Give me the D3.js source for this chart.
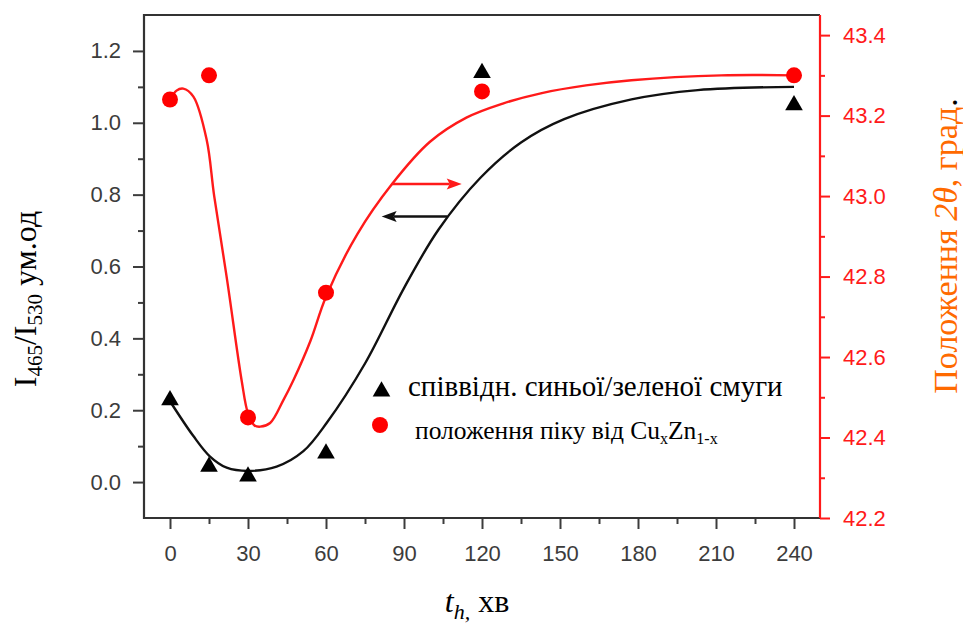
<!DOCTYPE html>
<html>
<head>
<meta charset="utf-8">
<script src="https://cdn.jsdelivr.net/npm/d3@7"></script>
<style>
  body { margin: 0; background: #fff; }
  svg { display: block; }
</style>
</head>
<body>
<svg id="chart" width="963" height="624"></svg>
<script>
// Tick values for the three axes
const timeTicks = [0, 30, 60, 90, 120, 150, 180, 210, 240];
const timeMinorTicks = [15, 45, 75, 105, 135, 165, 195, 225];
const ratioTicks = [0.0, 0.2, 0.4, 0.6, 0.8, 1.0, 1.2];
const ratioMinorTicks = [0.1, 0.3, 0.5, 0.7, 0.9, 1.1];
const peakTicks = [42.2, 42.4, 42.6, 42.8, 43.0, 43.2, 43.4];
const peakMinorTicks = [42.3, 42.5, 42.7, 42.9, 43.1, 43.3];

// Measured points: annealing time (min), blue/green band ratio, CuxZn1-x peak position (2θ)
const sampleTimes = [0, 15, 30, 60, 120, 240];
const ratioValues = [0.228, 0.043, 0.016, 0.080, 1.139, 1.049];
const peakValues = [43.24, 43.30, 42.45, 42.76, 43.26, 43.30];

// Fitted guide curves
const ratioFitTimes = [0, 9, 15.4, 21.8, 30, 41, 51.3, 60.3, 75, 90, 103.3, 119.4, 135, 151.6, 177.5, 203, 240];
const ratioFitValues = [0.225, 0.128, 0.071, 0.040, 0.031, 0.043, 0.086, 0.165, 0.33, 0.54, 0.703, 0.847, 0.945, 1.01, 1.065, 1.091, 1.10];
const peakFitTimes = [0, 2.5, 5.1, 9, 14.1, 17, 22, 27.6, 30, 32.5, 34.7, 38.5, 43.6, 47.5, 54, 60, 72, 85.4, 100, 114, 128, 143, 160, 177.5, 212, 240];
const peakFitValues = [43.239, 43.262, 43.267, 43.247, 43.14, 43.0, 42.79, 42.54, 42.46, 42.43, 42.427, 42.436, 42.493, 42.543, 42.64, 42.75, 42.905, 43.03, 43.135, 43.195, 43.23, 43.256, 43.275, 43.288, 43.30, 43.30];

// Arrows pointing each curve to its axis: [fromTime, toTime, level]
const ratioArrow = [106.7, 81.4, 0.739];
const peakArrow = [85.3, 112.2, 43.03];

const BLACK = "#111";
const RED = "#ff1a1a";
const FRAME = "#333";

const svg = d3.select("#chart");
const plotLeft = 144, plotRight = 820, plotTop = 15, plotBottom = 518;

const x = d3.scaleLinear().domain([-10, 250]).range([plotLeft, plotRight]);
const yL = d3.scaleLinear().domain([-0.1, 1.3]).range([plotBottom, plotTop]);
const yR = d3.scaleLinear().domain([42.2, 43.45]).range([plotBottom, plotTop]);

function styleAxis(g, color, fontSize) {
  g.select(".domain").remove();
  g.selectAll(".tick line").attr("stroke", color).attr("stroke-width", 2);
  g.selectAll(".tick text")
    .attr("fill", color)
    .style("font-family", "'Liberation Sans', Arial, sans-serif")
    .style("font-size", fontSize + "px");
}

// Bottom axis
svg.append("g").attr("transform", `translate(0,${plotBottom})`)
  .call(d3.axisBottom(x).tickValues(timeTicks).tickSize(11).tickPadding(16).tickFormat(d3.format("d")))
  .call(g => styleAxis(g, "#3c3c3c", 22));
svg.append("g").attr("transform", `translate(0,${plotBottom})`)
  .call(d3.axisBottom(x).tickValues(timeMinorTicks).tickSize(6).tickFormat(""))
  .call(g => styleAxis(g, "#3c3c3c", 22));

// Left axis
svg.append("g").attr("transform", `translate(${plotLeft},0)`)
  .call(d3.axisLeft(yL).tickValues(ratioTicks).tickSize(11).tickPadding(12).tickFormat(d3.format(".1f")))
  .call(g => styleAxis(g, "#3c3c3c", 22));
svg.append("g").attr("transform", `translate(${plotLeft},0)`)
  .call(d3.axisLeft(yL).tickValues(ratioMinorTicks).tickSize(6).tickFormat(""))
  .call(g => styleAxis(g, "#3c3c3c", 22));

// Right axis
svg.append("g").attr("transform", `translate(${plotRight},0)`)
  .call(d3.axisRight(yR).tickValues(peakTicks).tickSize(10).tickPadding(13).tickFormat(d3.format(".1f")))
  .call(g => styleAxis(g, RED, 22));
svg.append("g").attr("transform", `translate(${plotRight},0)`)
  .call(d3.axisRight(yR).tickValues(peakMinorTicks).tickSize(5).tickFormat(""))
  .call(g => styleAxis(g, RED, 22));

// Frame
svg.append("path")
  .attr("d", `M${plotRight},${plotTop}H${plotLeft}V${plotBottom}H${plotRight}`)
  .attr("fill", "none").attr("stroke", FRAME).attr("stroke-width", 2.2);
svg.append("line")
  .attr("x1", plotRight).attr("x2", plotRight).attr("y1", plotTop).attr("y2", plotBottom)
  .attr("stroke", RED).attr("stroke-width", 2.2);

// Fitted curves
const ratioLine = d3.line().x(d => x(d[0])).y(d => yL(d[1])).curve(d3.curveCatmullRom.alpha(0.5));
const peakLine = d3.line().x(d => x(d[0])).y(d => yR(d[1])).curve(d3.curveCatmullRom.alpha(0.5));

svg.append("path")
  .datum(d3.zip(ratioFitTimes, ratioFitValues))
  .attr("d", ratioLine)
  .attr("fill", "none").attr("stroke", BLACK).attr("stroke-width", 2.4);
svg.append("path")
  .datum(d3.zip(peakFitTimes, peakFitValues))
  .attr("d", peakLine)
  .attr("fill", "none").attr("stroke", RED).attr("stroke-width", 2.4);

// Arrows
function arrow(x1, x2, y, color) {
  const dir = Math.sign(x2 - x1);
  const headLen = 15, headHalf = 5.5;
  svg.append("line")
    .attr("x1", x1).attr("x2", x2 - dir * headLen * 0.8)
    .attr("y1", y).attr("y2", y)
    .attr("stroke", color).attr("stroke-width", 2.5);
  svg.append("path")
    .attr("d", `M${x2},${y}L${x2 - dir * headLen},${y - headHalf}L${x2 - dir * headLen * 0.8},${y}L${x2 - dir * headLen},${y + headHalf}Z`)
    .attr("fill", color);
}
arrow(x(peakArrow[0]), x(peakArrow[1]), yR(peakArrow[2]), RED);
arrow(x(ratioArrow[0]), x(ratioArrow[1]), yL(ratioArrow[2]), BLACK);

// Markers
const tri = d3.symbol().type(d3.symbolTriangle).size(135);
svg.append("g").selectAll("path")
  .data(d3.zip(sampleTimes, ratioValues))
  .join("path")
  .attr("d", tri)
  .attr("transform", d => `translate(${x(d[0])},${yL(d[1])})`)
  .attr("fill", "#000");

svg.append("g").selectAll("circle")
  .data(d3.zip(sampleTimes, peakValues))
  .join("circle")
  .attr("cx", d => x(d[0]))
  .attr("cy", d => yR(d[1]))
  .attr("r", 8)
  .attr("fill", "#ff0000");

// Legend
const serif = "'Liberation Serif', 'Times New Roman', serif";
svg.append("path").attr("d", tri).attr("transform", "translate(381.5,391.5)").attr("fill", "#000");
svg.append("text").attr("x", 408).attr("y", 396)
  .style("font-family", serif).style("font-size", "29px").attr("fill", "#000")
  .text("співвідн. синьої/зеленої смуги");
svg.append("circle").attr("cx", 380).attr("cy", 425).attr("r", 8).attr("fill", "#ff0000");
const leg2 = svg.append("text").attr("x", 415).attr("y", 439)
  .style("font-family", serif).style("font-size", "25.5px").attr("fill", "#000");
leg2.append("tspan").text("положення піку від Cu");
leg2.append("tspan").attr("dy", 5).style("font-size", "16px").text("x");
leg2.append("tspan").attr("dy", -5).text("Zn");
leg2.append("tspan").attr("dy", 5).style("font-size", "16px").text("1-x");

// Axis titles
const yTitle = svg.append("text")
  .attr("transform", "translate(36,299) rotate(-90)")
  .attr("text-anchor", "middle")
  .style("font-family", serif).style("font-size", "32px").attr("fill", "#000");
yTitle.append("tspan").text("I");
yTitle.append("tspan").attr("dy", 6).style("font-size", "21px").text("465");
yTitle.append("tspan").attr("dy", -6).text("/I");
yTitle.append("tspan").attr("dy", 6).style("font-size", "21px").text("530");
yTitle.append("tspan").attr("dy", -6).text(" ум.од");

const y2Title = svg.append("text")
  .attr("transform", "translate(957,246) rotate(-90)")
  .attr("text-anchor", "middle")
  .style("font-family", serif).style("font-size", "34px").attr("fill", "#ff6a00");
y2Title.append("tspan").text("Положення ");
y2Title.append("tspan").style("font-style", "italic").text("2θ");
y2Title.append("tspan").text(", град");
y2Title.append("tspan").attr("fill", "#000").text(".");

const xTitle = svg.append("text")
  .attr("x", 477).attr("y", 612)
  .attr("text-anchor", "middle")
  .style("font-family", serif).style("font-size", "32px").attr("fill", "#000");
xTitle.append("tspan").style("font-style", "italic").text("t");
xTitle.append("tspan").attr("dy", 7).style("font-style", "italic").style("font-size", "22px").text("h,");
xTitle.append("tspan").attr("dy", -7).text(" хв");
</script>
</body>
</html>
